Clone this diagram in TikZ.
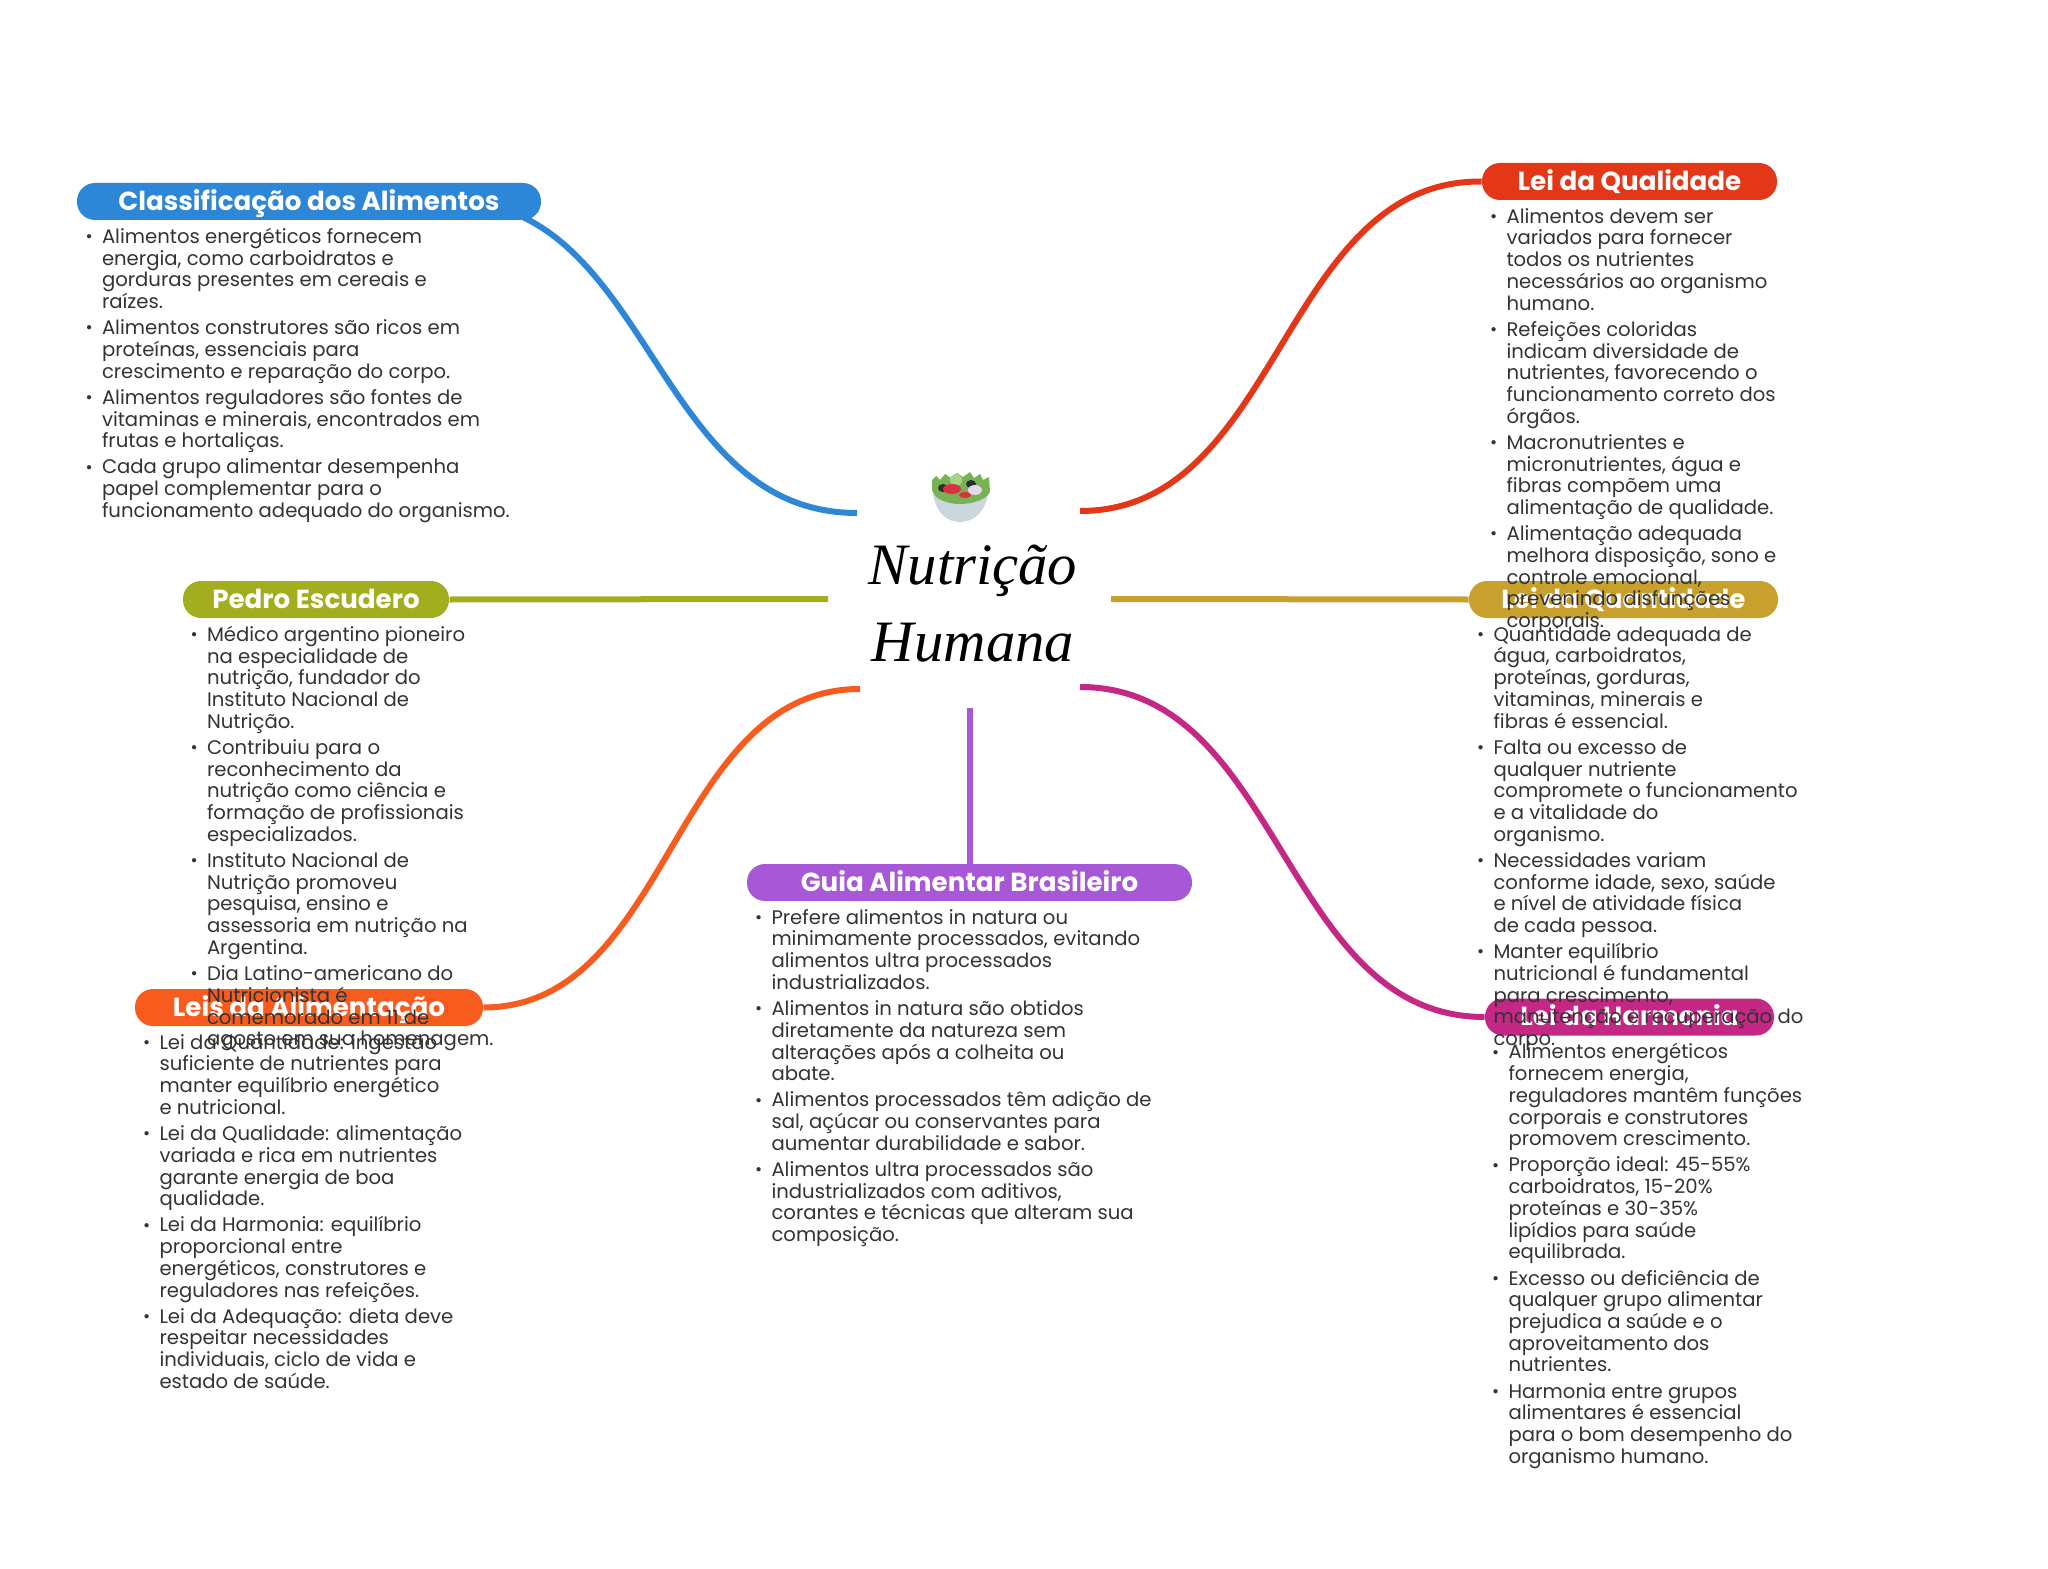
\documentclass[tikz,border=0pt]{standalone}
\usepackage{fontspec}
\setmainfont{Poppins}
\newfontfamily\rootfont{Liberation Serif}

\definecolor{blueCla}{RGB}{46,134,214}
\definecolor{redQual}{RGB}{227,55,24}
\definecolor{olivePed}{RGB}{163,174,30}
\definecolor{goldQuan}{RGB}{200,160,46}
\definecolor{orangeLeis}{RGB}{247,92,30}
\definecolor{purpleGuia}{RGB}{167,88,214}
\definecolor{magHarm}{RGB}{196,40,132}
\definecolor{inkBody}{RGB}{51,51,51}

\newcommand{\bul}{\strut\llap{\raisebox{0.6pt}{\fontsize{13}{13}\selectfont\textbullet}\hspace{7pt}}}
\newcommand{\tightlines}{\lineskiplimit=-10pt\relax}

\tikzset{every picture/.style={line width=0.75pt}}
\tikzset{
  branch/.style={line width=4.5pt},
  pill/.style={rounded corners=13.5pt,inner sep=0pt,minimum height=27.75pt,text height=13.8pt,text depth=0.4pt,text=white,font=\fontsize{19.6}{20}\selectfont\bfseries},
  bodytext/.style={anchor=north west,inner sep=0pt,align=left,text=inkBody,font=\fontsize{14.73}{16.3}\selectfont\tightlines},
  roottext/.style={inner sep=0pt,font=\rootfont\itshape\fontsize{44}{44}\selectfont}
}

\begin{document}
\begin{tikzpicture}[x=0.75pt,y=0.75pt,yscale=-1,xscale=1]
\useasboundingbox (0,0) rectangle (2048,1569);

%Free ends near the centre
\coordinate (hubCla) at (857,513);
\coordinate (hubQual) at (1080,511);
\coordinate (hubPed) at (828,599);
\coordinate (hubQuan) at (1111,599);
\coordinate (hubLeis) at (860,689);
\coordinate (hubHarm) at (1080,687);
\coordinate (hubGuia) at (970,708);
\coordinate (inCla) at (450,201);

%Curve Lines
\draw [branch,color=blueCla] (hubCla) .. controls (652,513) and (652,201) .. (inCla);

%Pills
\node (pillCla) [pill,fill=blueCla,minimum width=348pt] at (309,201.5) {Classificação dos Alimentos};
\node (pillQual) [pill,fill=redQual,minimum width=221.25pt] at (1629.5,181.5) {Lei da Qualidade};
\node (pillPed) [pill,fill=olivePed,minimum width=199.5pt] at (316,599.5) {Pedro Escudero};
\node (pillQuan) [pill,fill=goldQuan,minimum width=231.75pt] at (1623.5,599.5) {Lei da Quantidade};
\node (pillLeis) [pill,fill=orangeLeis,minimum width=261pt] at (309,1007.5) {Leis da Alimentação};
\node (pillGuia) [pill,fill=purpleGuia,minimum width=333.75pt] at (969.5,882.5) {Guia Alimentar Brasileiro};
\node (pillHarm) [pill,fill=magHarm,minimum width=216.75pt] at (1629.5,1017) {Lei da Harmonia};

%Curve Lines
\draw [branch,color=redQual] (hubQual) .. controls (1281,511) and (1281,180) .. (pillQual.west);
\draw [branch,color=olivePed] (hubPed) -- (pillPed.east);
\draw [branch,color=goldQuan] (hubQuan) -- (pillQuan.west);
\draw [branch,color=orangeLeis] (hubLeis) .. controls (671,689) and (671,1007) .. (pillLeis.east);
\draw [branch,color=purpleGuia] (hubGuia) -- (pillGuia.north -| hubGuia);
\draw [branch,color=magHarm] (hubHarm) .. controls (1282,687) and (1282,1017) .. (pillHarm.west);

%Shape: Salad Bowl
\fill [color={rgb, 255:red, 204; green, 214; blue, 221}] (933,494) .. controls (936,512) and (946,522) .. (960,522) .. controls (974,522) and (985,512) .. (988,494) -- cycle ;
\fill [color={rgb, 255:red, 119; green, 178; blue, 85}] (932,480) -- (936,476) -- (940,480) -- (945,474) -- (951,478) -- (957,473) -- (963,477) -- (970,472) -- (974,478) -- (980,474) -- (983,480) -- (989,477) -- (990,492) .. controls (986,500) and (972,504) .. (960,504) .. controls (948,504) and (935,500) .. (932,490) -- cycle ;
\fill [color={rgb, 255:red, 166; green, 211; blue, 136}] (956,480) circle [x radius=6,y radius=6] ;
\fill [color={rgb, 255:red, 41; green, 47; blue, 51}] (943,488) circle [x radius=5,y radius=4] ;
\fill [color={rgb, 255:red, 41; green, 47; blue, 51}] (971,484) circle [x radius=5,y radius=4] ;
\fill [color={rgb, 255:red, 221; green, 46; blue, 68}] (952,489) circle [x radius=9,y radius=5] ;
\fill [color={rgb, 255:red, 221; green, 46; blue, 68}] (965,495) circle [x radius=6,y radius=3] ;
\fill [color={rgb, 255:red, 225; green, 216; blue, 236}] (975,490) circle [x radius=7,y radius=5] ;

% Text Node
\draw (973,571) node (rootA) [roottext] {Nutrição};
% Text Node
\draw (973,643) node (rootB) [roottext] {Humana};

% Text Node
\draw (101.5,227.5) node (txtCla) [bodytext] {\bul Alimentos energéticos fornecem\\energia, como carboidratos e\\gorduras presentes em cereais e\\raízes.\\[3.3pt]
\bul Alimentos construtores são ricos em\\proteínas, essenciais para\\crescimento e reparação do corpo.\\[3.3pt]
\bul Alimentos reguladores são fontes de\\vitaminas e minerais, encontrados em\\frutas e hortaliças.\\[3.3pt]
\bul Cada grupo alimentar desempenha\\papel complementar para o\\funcionamento adequado do organismo.};
% Text Node
\draw (1506,207.5) node (txtQual) [bodytext] {\bul Alimentos devem ser\\variados para fornecer\\todos os nutrientes\\necessários ao organismo\\humano.\\[3.3pt]
\bul Refeições coloridas\\indicam diversidade de\\nutrientes, favorecendo o\\funcionamento correto dos\\órgãos.\\[3.3pt]
\bul Macronutrientes e\\micronutrientes, água e\\fibras compõem uma\\alimentação de qualidade.\\[3.3pt]
\bul Alimentação adequada\\melhora disposição, sono e\\controle emocional,\\prevenindo disfunções\\corporais.};
% Text Node
\draw (206.5,625.5) node (txtPed) [bodytext] {\bul Médico argentino pioneiro\\na especialidade de\\nutrição, fundador do\\Instituto Nacional de\\Nutrição.\\[3.3pt]
\bul Contribuiu para o\\reconhecimento da\\nutrição como ciência e\\formação de profissionais\\especializados.\\[3.3pt]
\bul Instituto Nacional de\\Nutrição promoveu\\pesquisa, ensino e\\assessoria em nutrição na\\Argentina.\\[3.3pt]
\bul Dia Latino-americano do\\Nutricionista é\\comemorado em 11 de\\agosto em sua homenagem.};
% Text Node
\draw (1493,625.5) node (txtQuan) [bodytext] {\bul Quantidade adequada de\\água, carboidratos,\\proteínas, gorduras,\\vitaminas, minerais e\\fibras é essencial.\\[3.3pt]
\bul Falta ou excesso de\\qualquer nutriente\\compromete o funcionamento\\e a vitalidade do\\organismo.\\[3.3pt]
\bul Necessidades variam\\conforme idade, sexo, saúde\\e nível de atividade física\\de cada pessoa.\\[3.3pt]
\bul Manter equilíbrio\\nutricional é fundamental\\para crescimento,\\manutenção e recuperação do\\corpo.};
% Text Node
\draw (159,1033.5) node (txtLeis) [bodytext] {\bul Lei da Quantidade: ingestão\\suficiente de nutrientes para\\manter equilíbrio energético\\e nutricional.\\[3.3pt]
\bul Lei da Qualidade: alimentação\\variada e rica em nutrientes\\garante energia de boa\\qualidade.\\[3.3pt]
\bul Lei da Harmonia: equilíbrio\\proporcional entre\\energéticos, construtores e\\reguladores nas refeições.\\[3.3pt]
\bul Lei da Adequação: dieta deve\\respeitar necessidades\\individuais, ciclo de vida e\\estado de saúde.};
% Text Node
\draw (771,908.5) node (txtGuia) [bodytext] {\bul Prefere alimentos in natura ou\\minimamente processados, evitando\\alimentos ultra processados\\industrializados.\\[3.3pt]
\bul Alimentos in natura são obtidos\\diretamente da natureza sem\\alterações após a colheita ou\\abate.\\[3.3pt]
\bul Alimentos processados têm adição de\\sal, açúcar ou conservantes para\\aumentar durabilidade e sabor.\\[3.3pt]
\bul Alimentos ultra processados são\\industrializados com aditivos,\\corantes e técnicas que alteram sua\\composição.};
% Text Node
\draw (1508,1043) node (txtHarm) [bodytext] {\bul Alimentos energéticos\\fornecem energia,\\reguladores mantêm funções\\corporais e construtores\\promovem crescimento.\\[3.3pt]
\bul Proporção ideal: 45-55\%\\carboidratos, 15-20\%\\proteínas e 30-35\%\\lipídios para saúde\\equilibrada.\\[3.3pt]
\bul Excesso ou deficiência de\\qualquer grupo alimentar\\prejudica a saúde e o\\aproveitamento dos\\nutrientes.\\[3.3pt]
\bul Harmonia entre grupos\\alimentares é essencial\\para o bom desempenho do\\organismo humano.};

\end{tikzpicture}
\end{document}
